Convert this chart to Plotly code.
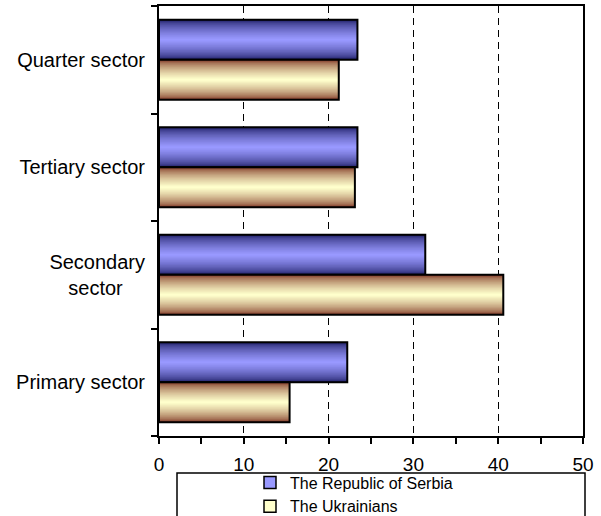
import plotly.graph_objects as go

categories = ["Primary sector", "Secondary sector", "Tertiary sector", "Quarter sector"]
category_labels = ["Primary sector", "Secondary<br>sector\u00a0\u00a0\u00a0\u00a0", "Tertiary sector", "Quarter sector"]
serbia = [22.2, 31.4, 23.4, 23.4]
ukrainians = [15.4, 40.6, 23.1, 21.2]
series_names = ["The Republic of Serbia", "The Ukrainians"]
x_ticks = [0, 10, 20, 30, 40, 50]

BAR_W = 0.372
N_LAYERS = 18
FONT = "Liberation Sans, Arial, sans-serif"


def mix(c1, c2, t):
    return "rgb(%d,%d,%d)" % tuple(round(a + (b - a) * t) for a, b in zip(c1, c2))


styles = [
    dict(values=serbia, edge=(26, 26, 96), center=(153, 153, 255), legend="#9999FF", side=+1),
    dict(values=ukrainians, edge=(122, 46, 30), center=(255, 255, 204), legend="#FFFFCC", side=-1),
]

fig = go.Figure()
for name, st in zip(series_names, styles):
    mid = st["side"] * BAR_W / 2
    for i in range(N_LAYERS):
        w = BAR_W * (1 - i / N_LAYERS)
        t = (i / (N_LAYERS - 1)) ** 0.6
        fig.add_trace(go.Bar(
            x=st["values"], y=categories, orientation="h",
            width=w, offset=mid - w / 2,
            marker=dict(color=mix(st["edge"], st["center"], t), line=dict(width=0)),
            showlegend=False, hoverinfo="skip",
        ))
    # outline
    fig.add_trace(go.Bar(
        x=st["values"], y=categories, orientation="h",
        width=BAR_W, offset=mid - BAR_W / 2,
        marker=dict(color="rgba(0,0,0,0)", line=dict(width=2, color="black")),
        showlegend=False, name=name,
    ))

# legend-only entries
for name, st in zip(series_names, styles):
    fig.add_trace(go.Bar(
        x=[None], y=[None], orientation="h", name=name,
        marker=dict(color=st["legend"], line=dict(width=1.5, color="black")),
        showlegend=True,
    ))

fig.update_layout(
    width=601, height=516,
    barmode="overlay",
    paper_bgcolor="white", plot_bgcolor="white",
    margin=dict(l=159, r=18, t=6, b=80, autoexpand=False),
    font=dict(family=FONT, color="black", size=19),
    showlegend=True,
    legend=dict(
        xref="container", yref="container",
        x=250 / 601, y=1 - 465.5 / 516, xanchor="left", yanchor="top",
        font=dict(size=16, family=FONT), bgcolor="rgba(0,0,0,0)",
        borderwidth=0, tracegroupgap=0, traceorder="normal",
    ),
    shapes=[dict(
        type="rect", xref="paper", yref="paper",
        x0=(177 - 159) / 424, x1=(585 - 159) / 424,
        y0=-0.3, y1=-(473 - 436) / 430,
        line=dict(color="black", width=1.5), fillcolor="rgba(0,0,0,0)", layer="above",
    )],
)

fig.update_xaxes(
    range=[0, 50], tickvals=x_ticks, ticks="outside", ticklen=6, tickwidth=1.5,
    tickcolor="black", showline=True, linecolor="black", linewidth=2, mirror=True,
    showgrid=True, gridcolor="black", gridwidth=1, griddash="7px,5px",
    zeroline=False, tickfont=dict(size=19), ticklabelstandoff=4, automargin=False,
    minor=dict(dtick=5, ticks="outside", ticklen=6, tickwidth=1.5, tickcolor="black", showgrid=False),
)
fig.update_yaxes(
    type="category", categoryorder="array", categoryarray=categories,
    tickmode="array", tickvals=categories, ticktext=category_labels,
    tickson="boundaries", ticks="outside", ticklen=6, tickwidth=1.5, tickcolor="black",
    showline=True, linecolor="black", linewidth=2, mirror=True, automargin=False,
    showgrid=False, zeroline=False, tickfont=dict(size=20), ticklabelstandoff=8,
)

fig.write_html(
    "out.html",
    config={"displayModeBar": False},
    post_script="document.body.style.margin='0px';document.body.style.overflow='hidden';",
)
